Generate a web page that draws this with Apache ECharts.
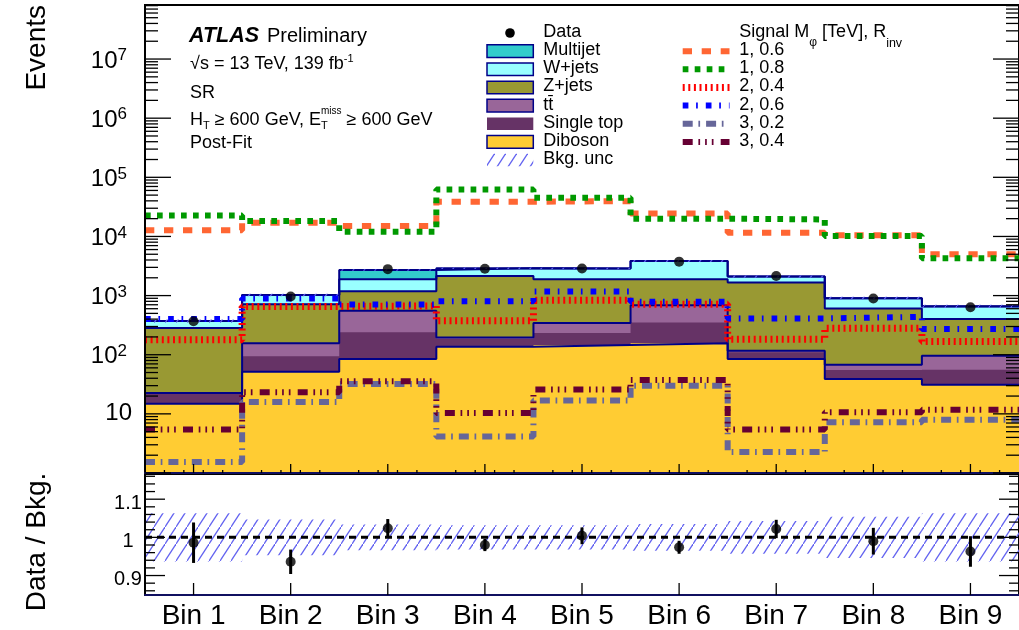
<!DOCTYPE html>
<html>
<head>
<meta charset="utf-8">
<script src="https://cdn.jsdelivr.net/npm/echarts@6/dist/echarts.min.js"></script>
<style>
  html, body { margin: 0; padding: 0; background: #fff; }
  #chart { width: 1019px; height: 630px; }
</style>
</head>
<body>
<div id="chart"></div>
<script>
// ---------------- values per bin ----------------
const bins = ['Bin 1', 'Bin 2', 'Bin 3', 'Bin 4', 'Bin 5', 'Bin 6', 'Bin 7', 'Bin 8', 'Bin 9'];

// background processes (post-fit yields)
const diboson   = [14.8, 51.6, 84.5, 136, 146, 156, 84.5, 38.9, 31.2];
const singleTop = [6.9, 42.4, 154.5, 48, 86, 196, 25.5, 16.3, 24.6];
const ttbar     = [0.8, 63, 313, 12, 111, 337, 7, 12.6, 40.2];
const zjets     = [259.5, 559, 634, 1952, 1549, 1203, 1547, 537, 304];
const wjets     = [89, 305, 706, 749, 972, 1954, 434, 299, 255];
const multijet  = [1, 5, 818, 3, 3, 4, 2, 2, 3];

// observed events
const observed = [368, 965, 2800, 2850, 2880, 3750, 2146, 895, 635];

// relative background uncertainty
const bkgUnc = [0.063, 0.047, 0.034, 0.032, 0.032, 0.035, 0.043, 0.054, 0.063];

// data / background ratio and its error
const ratio    = [0.986, 0.936, 1.024, 0.980, 1.004, 0.974, 1.022, 0.990, 0.963];
const ratioErr = [0.053, 0.032, 0.024, 0.016, 0.022, 0.017, 0.024, 0.035, 0.040];

// signal hypotheses (M_phi [TeV], R_inv)
const sig_1_06 = [12680, 17100, 14970, 38620, 39550, 24520, 11580, 10440, 4990];
const sig_1_08 = [22700, 18200, 12050, 62200, 45100, 19950, 19400, 10160, 4280];
const sig_2_04 = [179, 655, 670, 374, 836, 716, 182, 279, 168];
const sig_2_06 = [400, 893, 708, 805, 1172, 783, 411, 437, 271];
const sig_3_02 = [1.53, 15.8, 32.1, 4.14, 16.8, 30.0, 2.26, 7.24, 7.93];
const sig_3_04 = [5.43, 23.2, 35.6, 10.3, 25.7, 37.4, 5.43, 10.7, 11.7];

// axis tick labels
const eventPowers = [1, 2, 3, 4, 5, 6, 7];
const ratioTickLabels = [0.9, 1, 1.1];

// ---------------- styling ----------------
const FONT = '"Liberation Sans", Arial, Helvetica, sans-serif';
const Y_MIN = 1, Y_MAX = 8.2e7;
const R_MIN = 0.849, R_MAX = 1.166;
const NB = bins.length;
const OUTLINE = '#000088';
const COL = {
  multijet: '#33cccc', wjets: '#99ffff', zjets: '#999933',
  ttbar: '#996699', singleTop: '#663366', diboson: '#ffcc33'
};

// hatch pattern for the background uncertainty (single diagonal per tile)
const HW = 11, HH = 17;
const hatch = document.createElement('canvas');
hatch.width = HW; hatch.height = HH;
(function () {
  const c = hatch.getContext('2d');
  c.strokeStyle = '#6262f0';
  c.lineWidth = 1.25;
  c.beginPath();
  c.moveTo(-HW * 0.1, HH * 1.1); c.lineTo(HW * 1.1, -HH * 0.1);
  c.stroke();
})();
const hatchFill = { image: hatch, repeat: 'repeat' };

// cumulative stack
function addArr(a, b) { return a.map((v, i) => v + b[i]); }
const cumDib = diboson.slice();
const cumST = addArr(cumDib, singleTop);
const cumTT = addArr(cumST, ttbar);
const cumZ = addArr(cumTT, zjets);
const cumW = addArr(cumZ, wjets);
const cumMJ = addArr(cumW, multijet);
const total = cumMJ;

function stepData(arr) {
  return arr.map((v, i) => [i, v]).concat([[arr.length, arr[arr.length - 1]]]);
}

// filled layer: step polygon from the axis floor to the cumulative top
function layerSeries(cum, color, z) {
  return {
    type: 'custom', xAxisIndex: 0, yAxisIndex: 0, z: z, silent: true,
    data: [[0, Y_MIN]],
    renderItem: function (params, api) {
      const pts = [api.coord([0, Y_MIN])];
      cum.forEach(function (v, i) {
        pts.push(api.coord([i, v]));
        pts.push(api.coord([i + 1, v]));
      });
      pts.push(api.coord([NB, Y_MIN]));
      return { type: 'polygon', shape: { points: pts }, style: { fill: color } };
    }
  };
}

function outlineSeries(cum) {
  return {
    type: 'line', xAxisIndex: 0, yAxisIndex: 0, step: 'end', symbol: 'none', z: 3, silent: true,
    data: stepData(cum),
    lineStyle: { color: OUTLINE, width: 2 }
  };
}

function signalSeries(arr, color, dash, width) {
  return {
    type: 'line', xAxisIndex: 0, yAxisIndex: 0, step: 'end', symbol: 'none', z: 5, silent: true,
    data: stepData(arr),
    lineStyle: { color: color, width: width, type: dash, cap: 'butt' }
  };
}

const SIG = [
  { arr: sig_1_06, color: '#ff6633', dash: [9.3, 9.7], width: 6, label: '1, 0.6' },
  { arr: sig_1_08, color: '#009900', dash: [5.7, 6.3], width: 6, label: '1, 0.8' },
  { arr: sig_2_04, color: '#ff0000', dash: [2, 3.6], width: 7, label: '2, 0.4' },
  { arr: sig_2_06, color: '#0000ff', dash: [5.7, 7.7, 1.7, 8], width: 6, label: '2, 0.6' },
  { arr: sig_3_02, color: '#666699', dash: [10, 5.7, 1.7, 6], width: 6, label: '3, 0.2' },
  { arr: sig_3_04, color: '#660033', dash: [10, 5.7, 1.7, 5, 1.7, 5, 1.7, 7.2], width: 6, label: '3, 0.4' }
];

// ---------------- axis decorations (ticks + labels) ----------------
const topDeco = [];
eventPowers.concat([0]).forEach(function (k) {
  for (let m = 1; m <= 9; m++) {
    const v = m * Math.pow(10, k);
    if (v > Y_MAX) break;
    topDeco.push({ kind: 'y', v: v, len: m === 1 ? 26 : 13, label: (m === 1 && k > 0) ? k : null });
  }
});
for (let i = 0; i < NB; i++) {
  [0.2, 0.4, 0.6, 0.8].forEach(function (f) { topDeco.push({ kind: 'x', v: i + f, len: 3 }); });
  topDeco.push({ kind: 'x', v: i + 0.5, len: 9 });
}

const ratioDeco = [];
for (let t = 86; t <= 116; t += 2) {
  const v = t / 100;
  const major = (t % 10 === 0);
  ratioDeco.push({ kind: 'y', v: v, len: major ? 20 : 10,
    label: major && ratioTickLabels.indexOf(v) >= 0 ? String(v) : null });
}
bins.forEach(function (b, i) { ratioDeco.push({ kind: 'x', v: i + 0.5, len: 12, label: b }); });

function decoSeries(deco, xi, yi, yFloor, isLog) {
  return {
    type: 'custom', xAxisIndex: xi, yAxisIndex: yi, z: 20, silent: true, clip: false,
    data: deco.map(function (d) { return d.kind === 'x' ? [d.v, yFloor] : [0, d.v]; }),
    renderItem: function (params, api) {
      const d = deco[params.dataIndex];
      const children = [];
      const st = { stroke: '#000', lineWidth: 1.3 };
      if (d.kind === 'y') {
        const L = api.coord([0, d.v]), R = api.coord([NB, d.v]);
        children.push({ type: 'line', shape: { x1: L[0], y1: L[1], x2: L[0] + d.len, y2: L[1] }, style: st });
        children.push({ type: 'line', shape: { x1: R[0], y1: R[1], x2: R[0] - d.len, y2: R[1] }, style: st });
        if (d.label !== null && d.label !== undefined) {
          if (isLog) {
            const k = d.label;
            if (k === 1) {
              children.push({ type: 'text', x: L[0] - 13, y: L[1], style: {
                text: '10', fontSize: 24, fontFamily: FONT, fill: '#000', align: 'right', verticalAlign: 'middle' } });
            } else {
              children.push({ type: 'text', x: L[0] - 18, y: L[1] + 1, style: {
                text: '{b|10}{s|' + k + '}', align: 'right', verticalAlign: 'middle', fill: '#000',
                rich: {
                  b: { fontSize: 24, fontFamily: FONT, lineHeight: 26, verticalAlign: 'bottom', fill: '#000' },
                  s: { fontSize: 17, fontFamily: FONT, lineHeight: 13, verticalAlign: 'top', fill: '#000' }
                } } });
            }
          } else {
            children.push({ type: 'text', x: L[0] - 17, y: L[1] + 4, style: {
              text: d.label, fontSize: 20, fontFamily: FONT, fill: '#000', align: 'center', verticalAlign: 'middle' } });
          }
        }
      } else {
        const B = api.coord([d.v, yFloor]);
        children.push({ type: 'line', shape: { x1: B[0], y1: B[1], x2: B[0], y2: B[1] - d.len }, style: st });
        if (d.label) {
          children.push({ type: 'text', x: B[0], y: B[1] + 7, style: {
            text: d.label, fontSize: 28, fontFamily: FONT, fill: '#000', align: 'center', verticalAlign: 'top' } });
        }
      }
      return { type: 'group', children: children };
    }
  };
}

// ---------------- text helpers ----------------
const mctx = document.createElement('canvas').getContext('2d');
function textWidth(t, size, weight, style) {
  mctx.font = (style || 'normal') + ' ' + (weight || 'normal') + ' ' + size + 'px ' + FONT;
  return mctx.measureText(t).width;
}
// a run of text pieces with sub/superscripts
function textRun(x, y, parts) {
  const out = [];
  let cx = x;
  parts.forEach(function (p) {
    out.push({ type: 'text', x: cx, y: y + (p.dy || 0), z: 100, silent: true, style: {
      text: p.t, fontSize: p.size, fontFamily: FONT, fontWeight: p.weight || 'normal',
      fontStyle: p.style || 'normal', fill: '#000', align: 'left', verticalAlign: 'middle' } });
    if (p.adv !== undefined) cx += p.adv;
    else if (!p.keep) cx += textWidth(p.t, p.size, p.weight, p.style);
  });
  return out;
}

// ---------------- legend + labels ----------------
const graphics = [];
// axis titles
graphics.push({ type: 'text', x: 37, y: 5, rotation: Math.PI / 2, z: 100, silent: true,
  style: { text: 'Events', fontSize: 28, fontFamily: FONT, fill: '#000', align: 'right', verticalAlign: 'middle' } });
graphics.push({ type: 'text', x: 37, y: 542, rotation: Math.PI / 2, z: 100, silent: true,
  style: { text: 'Data / Bkg.', fontSize: 28, fontFamily: FONT, fill: '#000', align: 'center', verticalAlign: 'middle' } });

// ATLAS label block
graphics.push.apply(graphics, textRun(189, 36, [
  { t: 'ATLAS', size: 21.5, weight: 'bold', style: 'italic', adv: 78 },
  { t: 'Preliminary', size: 20 }
]));
graphics.push.apply(graphics, textRun(190, 64, [
  { t: '\u221As = 13 TeV, 139 fb', size: 18 },
  { t: '-1', size: 11, dy: -5 }
]));
graphics.push.apply(graphics, textRun(190, 93.5, [{ t: 'SR', size: 18 }]));
graphics.push.apply(graphics, textRun(190, 120, [
  { t: 'H', size: 18 },
  { t: 'T', size: 11, dy: 6 },
  { t: ' \u2265 600 GeV, E', size: 18 },
  { t: 'miss', size: 10, dy: -9, keep: true },
  { t: 'T', size: 11, dy: 6, adv: textWidth('miss', 10) },
  { t: ' \u2265 600 GeV', size: 18 }
]));
graphics.push.apply(graphics, textRun(190, 143.5, [{ t: 'Post-Fit', size: 18 }]));

// background legend
const ROW0 = 33, ROWH = 18.15;
graphics.push({ type: 'circle', z: 100, silent: true, shape: { cx: 510, cy: ROW0, r: 4.8 }, style: { fill: '#000' } });
graphics.push.apply(graphics, textRun(543.3, ROW0 - 1, [{ t: 'Data', size: 18 }]));
const bkgLegend = [
  { t: 'Multijet', fill: COL.multijet, border: true },
  { t: 'W+jets', fill: COL.wjets, border: true },
  { t: 'Z+jets', fill: COL.zjets, border: true },
  { t: 'tt\u0304', fill: COL.ttbar, border: true },
  { t: 'Single top', fill: COL.singleTop, border: false },
  { t: 'Diboson', fill: COL.diboson, border: true },
  { t: 'Bkg. unc', fill: hatchFill, border: false }
];
bkgLegend.forEach(function (e, k) {
  const cy = ROW0 + ROWH * (k + 1);
  graphics.push({ type: 'rect', z: 100, silent: true,
    shape: { x: 487, y: cy - 6.3, width: 46.3, height: 12.6 },
    style: { fill: e.fill, stroke: e.border ? OUTLINE : null, lineWidth: e.border ? 1.5 : 0 } });
  graphics.push.apply(graphics, textRun(543.3, cy - 1, [{ t: e.t, size: 18 }]));
});

// signal legend
graphics.push.apply(graphics, textRun(739.3, ROW0 - 1, [
  { t: 'Signal M', size: 18 },
  { t: '\u03C6', size: 12, dy: 11 },
  { t: ' [TeV], R', size: 18 },
  { t: 'inv', size: 12.5, dy: 12 }
]));
SIG.forEach(function (s, k) {
  const cy = ROW0 + ROWH * (k + 1);
  graphics.push({ type: 'line', z: 100, silent: true,
    shape: { x1: 682.7, y1: cy, x2: 729.5, y2: cy },
    style: { stroke: s.color, lineWidth: s.width, lineDash: s.dash, lineCap: 'butt' } });
  graphics.push.apply(graphics, textRun(739.3, cy - 1, [{ t: s.label, size: 18 }]));
});

// ---------------- series ----------------
const series = [
  layerSeries(cumMJ, COL.multijet, 1),
  layerSeries(cumW, COL.wjets, 1),
  layerSeries(cumZ, COL.zjets, 1),
  layerSeries(cumTT, COL.ttbar, 1),
  layerSeries(cumST, COL.singleTop, 1),
  layerSeries(cumDib, COL.diboson, 1),
  outlineSeries(cumDib),
  outlineSeries(cumTT),
  outlineSeries(cumZ),
  outlineSeries(cumW),
  outlineSeries(cumMJ),
  {
    // background uncertainty band on the stack
    type: 'custom', xAxisIndex: 0, yAxisIndex: 0, z: 4, silent: true,
    data: total.map(function (t, i) { return [i, t * (1 - bkgUnc[i]), t * (1 + bkgUnc[i])]; }),
    renderItem: function (params, api) {
      const i = api.value(0);
      const p0 = api.coord([i, api.value(1)]), p1 = api.coord([i + 1, api.value(2)]);
      return { type: 'rect', shape: { x: p0[0], y: p1[1], width: p1[0] - p0[0], height: p0[1] - p1[1] },
        style: { fill: hatchFill } };
    }
  }
];
SIG.forEach(function (s) { series.push(signalSeries(s.arr, s.color, s.dash, s.width)); });
series.push({
  type: 'scatter', xAxisIndex: 0, yAxisIndex: 0, z: 6, silent: true,
  symbol: 'circle', symbolSize: 10, itemStyle: { color: '#000' },
  data: observed.map(function (v, i) { return [i + 0.5, v]; })
});

// ratio panel
series.push({
  type: 'custom', xAxisIndex: 1, yAxisIndex: 1, z: 2, silent: true,
  data: bkgUnc.map(function (u, i) { return [i, 1 - u, 1 + u]; }),
  renderItem: function (params, api) {
    const i = api.value(0);
    const p0 = api.coord([i, api.value(1)]), p1 = api.coord([i + 1, api.value(2)]);
    return { type: 'rect', shape: { x: p0[0], y: p1[1], width: p1[0] - p0[0], height: p0[1] - p1[1] },
      style: { fill: hatchFill } };
  }
});
series.push({
  type: 'line', xAxisIndex: 1, yAxisIndex: 1, z: 3, silent: true, symbol: 'none',
  data: [[0, 1], [NB, 1]],
  lineStyle: { color: '#000', width: 3, type: [7, 5] }
});
series.push({
  type: 'custom', xAxisIndex: 1, yAxisIndex: 1, z: 4, silent: true,
  data: ratio.map(function (r, i) { return [i + 0.5, r - ratioErr[i], r + ratioErr[i]]; }),
  renderItem: function (params, api) {
    const a = api.coord([api.value(0), api.value(1)]), b = api.coord([api.value(0), api.value(2)]);
    return { type: 'line', shape: { x1: a[0], y1: a[1], x2: b[0], y2: b[1] }, style: { stroke: '#000', lineWidth: 3 } };
  }
});
series.push({
  type: 'scatter', xAxisIndex: 1, yAxisIndex: 1, z: 5, silent: true,
  symbol: 'circle', symbolSize: 10, itemStyle: { color: '#000' },
  data: ratio.map(function (r, i) { return [i + 0.5, r]; })
});

series.push(decoSeries(topDeco, 0, 0, Y_MIN, true));
series.push(decoSeries(ratioDeco, 1, 1, R_MIN, false));

function xAxisCfg(gi) {
  return {
    gridIndex: gi, type: 'value', min: 0, max: NB, z: 10,
    axisLine: { show: true, onZero: false, lineStyle: { color: '#101060', width: 2 } },
    axisTick: { show: false }, axisLabel: { show: false }, splitLine: { show: false }
  };
}

const chart = echarts.init(document.getElementById('chart'), null, { renderer: 'canvas', width: 1019, height: 630 });
chart.setOption({
  animation: false,
  backgroundColor: '#fff',
  grid: [
    { left: 145, top: 5, width: 876, height: 468, show: true, borderColor: '#000', borderWidth: 2 },
    { left: 145, top: 474, width: 876, height: 121, show: true, borderColor: '#000', borderWidth: 2 }
  ],
  xAxis: [xAxisCfg(0), xAxisCfg(1)],
  yAxis: [
    { gridIndex: 0, type: 'log', logBase: 10, min: Y_MIN, max: Y_MAX, z: 10,
      axisLine: { show: true, lineStyle: { color: '#000', width: 2 } },
      axisTick: { show: false }, axisLabel: { show: false }, splitLine: { show: false } },
    { gridIndex: 1, type: 'value', min: R_MIN, max: R_MAX, z: 10,
      axisLine: { show: true, lineStyle: { color: '#000', width: 2 } },
      axisTick: { show: false }, axisLabel: { show: false }, splitLine: { show: false } }
  ],
  graphic: graphics,
  series: series
});
</script>
</body>
</html>
